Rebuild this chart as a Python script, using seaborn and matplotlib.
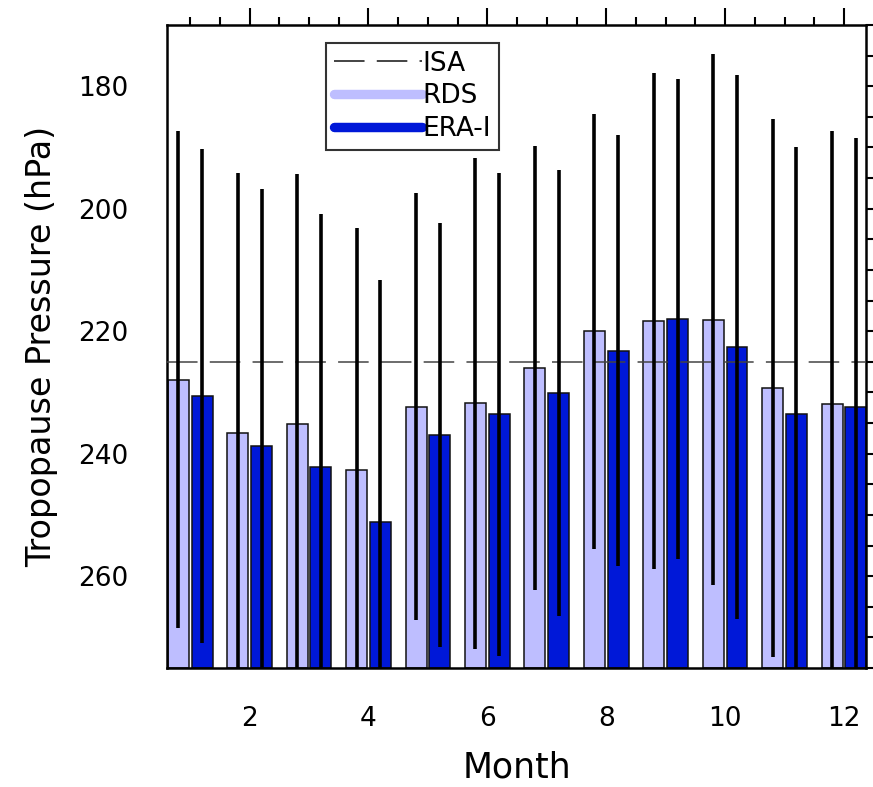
import matplotlib
matplotlib.use("Agg")
import matplotlib.pyplot as plt
from matplotlib.lines import Line2D
from matplotlib.ticker import MultipleLocator
import numpy as np
import pandas as pd
import seaborn as sns

# ---- data ----
months = [1, 2, 3, 4, 5, 6, 7, 8, 9, 10, 11, 12]
rds_mean = [227.9, 236.6, 235.1, 242.7, 232.3, 231.8, 226.0, 220.0, 218.3, 218.1, 229.3, 231.9]
era_mean = [230.6, 238.8, 242.2, 251.1, 236.9, 233.6, 230.1, 223.2, 218.0, 222.6, 233.5, 232.4]
rds_std = [40.6, 42.5, 40.7, 39.6, 34.9, 40.1, 36.3, 35.5, 40.5, 43.4, 43.9, 44.6]
era_std = [40.3, 42.1, 41.3, 39.5, 34.6, 39.4, 36.4, 35.2, 39.2, 44.4, 43.5, 44.0]
isa_pressure = 225.0
series_names = ["RDS", "ERA-I"]
y_bottom, y_top = 275, 170

rds_color = "#BEBEFF"
era_color = "#0018D8"

sns.set_theme(style="white")
plt.rcParams["font.family"] = ["DejaVu Sans"]
plt.rcParams["text.color"] = "black"
plt.rcParams["axes.labelcolor"] = "black"
plt.rcParams["xtick.color"] = "black"
plt.rcParams["ytick.color"] = "black"

df = pd.DataFrame({
    "month": months * 2,
    "source": [series_names[0]] * 12 + [series_names[1]] * 12,
    "value": rds_mean + era_mean,
    "std": rds_std + era_std,
})
df["height"] = df["value"] - y_bottom

fig = plt.figure(figsize=(8.73, 7.87), dpi=100)
ax = fig.add_axes([167 / 873, (787 - 668) / 787, (866 - 167) / 873, (668 - 25) / 787])

sns.barplot(data=df, x="month", y="height", hue="source", hue_order=series_names,
            palette={series_names[0]: rds_color, series_names[1]: era_color},
            saturation=1, native_scale=True, dodge=True, width=0.8, gap=0.12,
            errorbar=None, legend=False, edgecolor="#111111", linewidth=1.1,
            bottom=y_bottom, ax=ax, zorder=2)

# error bars (±std) at each bar's centre
patches = list(ax.patches)
for i, name in enumerate(series_names):
    sub = df[df["source"] == name].reset_index(drop=True)
    ps = patches[i * 12:(i + 1) * 12]
    cx = [p.get_x() + p.get_width() / 2 for p in ps]
    ax.errorbar(cx, sub["value"], yerr=sub["std"], fmt="none", ecolor="black",
                elinewidth=2.6, capsize=0, zorder=4)

ax.axhline(isa_pressure, color="#444444", lw=1.1, dashes=(20, 8), zorder=3)

ax.set_xlim(0.61, 12.37)
ax.set_ylim(y_bottom, y_top)
ax.xaxis.set_major_locator(MultipleLocator(2))
ax.xaxis.set_minor_locator(MultipleLocator(0.5))
ax.yaxis.set_major_locator(MultipleLocator(20))
ax.yaxis.set_minor_locator(MultipleLocator(5))
ax.tick_params(which="both", direction="out", top=True, right=True,
               labeltop=False, labelright=False, color="black", labelcolor="black", width=1.5)
ax.tick_params(which="major", length=12.5, labelsize=19, pad=15)
ax.tick_params(which="minor", length=6)
for s in ax.spines.values():
    s.set_linewidth(1.8)
    s.set_color("black")

ax.set_xlabel("Month", fontsize=25, labelpad=13, color="black")
ax.set_ylabel("Tropopause Pressure (hPa)", fontsize=24, labelpad=15, color="black")

handles = [
    Line2D([], [], color="#111111", lw=1.1, dashes=(20, 8)),
    Line2D([], [], color=rds_color, lw=6.8, solid_capstyle="round"),
    Line2D([], [], color=era_color, lw=6.8, solid_capstyle="round"),
]
leg = ax.legend(handles, ["ISA"] + series_names, loc="upper left",
                bbox_to_anchor=(325.7 / 873, 1 - 42.7 / 787), bbox_transform=fig.transFigure,
                fontsize=19, frameon=True, fancybox=False, borderaxespad=0,
                handlelength=3.35, handletextpad=0.0, labelspacing=0.25, borderpad=0.3)
leg.get_frame().set_edgecolor("black")
leg.get_frame().set_linewidth(1.5)
for t in leg.get_texts():
    t.set_color("black")
leg.set_zorder(10)

fig.savefig("out.png", dpi=100)
